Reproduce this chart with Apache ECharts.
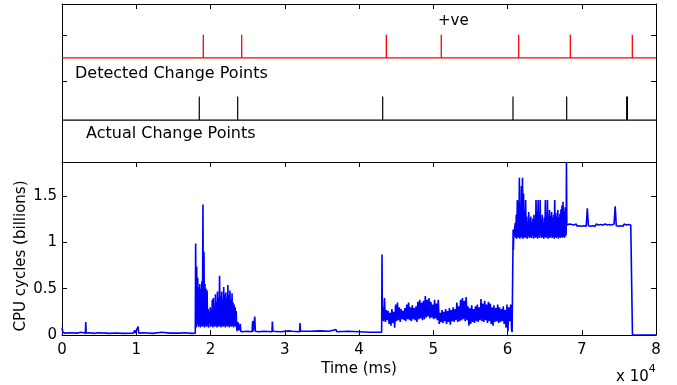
<!DOCTYPE html>
<html>
<head>
<meta charset="utf-8">
<script src="https://cdn.jsdelivr.net/npm/echarts@6/dist/echarts.min.js"></script>
<style>
html,body{margin:0;padding:0;background:#fff;}
#chart{width:677px;height:385px;}
</style>
</head>
<body>
<div id="chart"></div>
<script>
// ---------- DATA ----------
// change points (time in ms)
const detectedChangePoints = [19030, 24200, 43680, 51080, 61510, 68460, 76810];
const actualChangePoints = [18490, 23660, 43190, 60740, 67970, 76050, 76150];
const xTickValues = [0, 10000, 20000, 30000, 40000, 50000, 60000, 70000, 80000];

// CPU cycles (billions) — sparse idle stretches as [time, value]
const idleStart = [[0,0.08],[120,0.03],[400,0.02],[1100,0.025],[1200,0.018],[2000,0.02],[2600,0.03],[2700,0.018],[3150,0.018],[3200,0.14],[3260,0.02],[3700,0.025],[4400,0.018],[4800,0.025],[4900,0.018],[6000,0.02],[6200,0.03],[6300,0.018],[7300,0.022],[8200,0.018],[9600,0.02],[9800,0.05],[9850,0.02],[10100,0.04],[10250,0.09],[10320,0.02],[11000,0.025],[12200,0.018],[13400,0.03],[13500,0.018],[14500,0.02],[15800,0.02],[16500,0.025],[17500,0.018],[17950,0.02]];
// burst 1: sampled every 70 ms from 18000 ms
const burst1Values = [0.99,0.08,0.74,0.12,0.62,0.09,0.52,0.1,0.55,0.08,0.5,0.1,0.58,0.09,1.41,0.1,0.9,0.08,0.55,0.1,0.5,0.09,0.48,0.1,0.28,0.08,0.25,0.12,0.3,0.09,0.27,0.1,0.38,0.08,0.4,0.1,0.32,0.09,0.44,0.1,0.36,0.08,0.47,0.1,0.4,0.09,0.64,0.1,0.42,0.08,0.47,0.1,0.39,0.09,0.52,0.1,0.44,0.08,0.46,0.1,0.4,0.09,0.54,0.1,0.43,0.08,0.48,0.1,0.38,0.09,0.45,0.1,0.35,0.08,0.33,0.1,0.3,0.09,0.26,0.08];
const idleMiddle = [[23600,0.04],[23700,0.14],[23850,0.05],[24000,0.12],[24100,0.035],[25000,0.04],[25600,0.035],[25680,0.15],[25760,0.04],[25900,0.05],[25960,0.2],[26040,0.04],[26500,0.035],[27200,0.04],[28280,0.035],[28330,0.145],[28400,0.04],[29500,0.035],[30500,0.045],[31000,0.04],[32000,0.035],[32050,0.13],[32120,0.04],[33500,0.04],[34800,0.045],[36000,0.04],[36900,0.06],[37000,0.035],[38500,0.04],[40000,0.035],[41500,0.03],[42500,0.03],[43050,0.03],[43100,0.87],[43140,0.2]];
// phase C: sampled every 125 ms from 43180 ms
const phaseCValues = [0.30,0.15,0.40,0.14,0.27,0.16,0.26,0.12,0.24,0.10,0.28,0.13,0.25,0.08,0.33,0.15,0.35,0.16,0.30,0.14,0.28,0.17,0.26,0.16,0.29,0.15,0.33,0.17,0.35,0.16,0.30,0.15,0.32,0.17,0.29,0.16,0.31,0.14,0.36,0.17,0.38,0.18,0.35,0.16,0.37,0.17,0.42,0.19,0.38,0.20,0.40,0.18,0.36,0.19,0.33,0.17,0.38,0.18,0.34,0.16,0.38,0.12,0.24,0.14,0.27,0.13,0.25,0.15,0.28,0.12,0.26,0.14,0.29,0.11,0.27,0.15,0.30,0.14,0.28,0.16,0.35,0.14,0.31,0.15,0.38,0.16,0.40,0.17,0.37,0.15,0.41,0.16,0.31,0.10,0.29,0.12,0.32,0.14,0.28,0.13,0.31,0.15,0.33,0.14,0.30,0.16,0.39,0.15,0.34,0.14,0.37,0.16,0.33,0.13,0.36,0.15,0.34,0.12,0.30,0.10,0.32,0.14,0.29,0.15,0.33,0.13,0.30,0.14,0.28,0.15,0.31,0.12,0.27,0.08,0.33,0.04,0.30,0.15,0.33,0.06];
const transitionD = [[60620,0.03],[60700,0.02],[60740,0.02],[60760,1.14],[60790,0.92],[60830,1.05],[60860,1.03]];
// phase D: sampled every 70 ms from 60900 ms
const phaseDValues = [1.06,1.03,1.21,1.05,1.30,1.04,1.46,1.06,1.44,1.05,1.70,1.04,1.35,1.06,1.61,1.05,1.70,1.04,1.53,1.06,1.35,1.05,1.46,1.06,1.28,1.04,1.22,1.07,1.33,1.05,1.25,1.06,1.28,1.05,1.22,1.07,1.26,1.04,1.30,1.06,1.24,1.05,1.46,1.06,1.33,1.04,1.46,1.06,1.28,1.05,1.46,1.07,1.25,1.05,1.30,1.06,1.22,1.04,1.27,1.06,1.46,1.05,1.30,1.06,1.46,1.04,1.28,1.06,1.35,1.05,1.29,1.07,1.33,1.05,1.27,1.06,1.30,1.04,1.46,1.06,1.32,1.05,1.28,1.06,1.35,1.04,1.27,1.06,1.31,1.05,1.36,1.06,1.40,1.05,1.44,1.06,1.33,1.05,1.38,1.07];
const transitionE = [[67900,1.10],[67940,1.87],[67990,1.19]];
// phase E: sampled every 150 ms from 68050 ms
const phaseEValues = [1.19,1.175,1.2,1.18,1.195,1.175,1.19,1.18,1.2,1.175,1.19,1.18,1.195,1.175,1.19,1.18,1.2,1.175,1.37,1.18,1.19,1.175,1.195,1.18,1.19,1.175,1.2,1.18,1.19,1.175,1.195,1.18,1.19,1.175,1.2,1.18,1.19,1.175,1.195,1.18,1.19,1.175,1.2,1.39,1.18,1.19,1.175,1.195,1.18,1.19,1.175,1.2,1.18,1.19,1.175,1.195,1.18,1.19,1.185];
const tailEnd = [[76800,1.185],[76830,0],[80000,0]];

// ---------- BUILD ----------
function sampled(start, step, values) {
  return values.map((v, i) => [start + i * step, v]);
}
const cpuData = [].concat(
  idleStart,
  sampled(18000, 70, burst1Values),
  idleMiddle,
  sampled(43180, 125, phaseCValues),
  transitionD,
  sampled(60900, 70, phaseDValues),
  transitionE,
  sampled(68050, 150, phaseEValues),
  tailEnd
);

function spikeLine(points, base, top) {
  const out = [[0, base]];
  points.forEach(p => { out.push([p, base], [p, top], [p, base]); });
  out.push([80000, base]);
  return out;
}
const RED_BASE = 2.24, RED_TOP = 2.74, BLK_BASE = 0.90, BLK_TOP = 1.41;

const FONT = 'DejaVu Sans';
const axisLineStyle = { show: true, onZero: false, lineStyle: { color: '#000', width: 1 } };
const tickIn = { show: true, inside: true, length: 5, lineStyle: { color: '#000', width: 1 } };

const chart = echarts.init(document.getElementById('chart'), null, { renderer: 'canvas' });
chart.setOption({
  animation: false,
  backgroundColor: '#fff',
  grid: [
    { left: 62, right: 21, top: 4, height: 158 },
    { left: 62, right: 21, top: 162, height: 173 }
  ],
  xAxis: [
    { gridIndex: 0, type: 'value', min: 0, max: 80000, interval: 10000, position: 'top',
      axisLine: axisLineStyle, axisTick: tickIn, axisLabel: { show: false }, splitLine: { show: false } },
    { gridIndex: 1, type: 'value', min: 0, max: 80000, interval: 10000, position: 'bottom',
      axisLine: axisLineStyle, axisTick: tickIn, splitLine: { show: false },
      axisLabel: { show: true, margin: 8, color: '#000', fontFamily: FONT, fontSize: 15,
        formatter: v => String(v / 10000) } },
    { gridIndex: 1, type: 'value', min: 0, max: 80000, interval: 10000, position: 'top',
      axisLine: axisLineStyle, axisTick: tickIn, axisLabel: { show: false }, splitLine: { show: false } }
  ],
  yAxis: [
    { gridIndex: 0, type: 'value', min: 0, max: 3.4, position: 'left',
      axisLine: axisLineStyle, axisTick: Object.assign({}, tickIn, { customValues: [1.74, 2.73] }),
      axisLabel: { show: false }, splitLine: { show: false } },
    { gridIndex: 0, type: 'value', min: 0, max: 3.4, position: 'right',
      axisLine: axisLineStyle, axisTick: Object.assign({}, tickIn, { customValues: [1.74, 2.73] }),
      axisLabel: { show: false }, splitLine: { show: false } },
    { gridIndex: 1, type: 'value', min: 0, max: 1.87, interval: 0.5, position: 'left',
      axisLine: axisLineStyle, axisTick: tickIn, splitLine: { show: false },
      axisLabel: { show: true, margin: 5, color: '#000', fontFamily: FONT, fontSize: 15, showMaxLabel: false } },
    { gridIndex: 1, type: 'value', min: 0, max: 1.87, interval: 0.5, position: 'right',
      axisLine: axisLineStyle, axisTick: tickIn, splitLine: { show: false }, axisLabel: { show: false } }
  ],
  series: [
    { type: 'line', xAxisIndex: 0, yAxisIndex: 0, data: spikeLine(detectedChangePoints, RED_BASE, RED_TOP),
      showSymbol: false, symbol: 'none', lineStyle: { color: '#ff0000', width: 1.3 }, silent: true },
    { type: 'line', xAxisIndex: 0, yAxisIndex: 0, data: spikeLine(actualChangePoints, BLK_BASE, BLK_TOP),
      showSymbol: false, symbol: 'none', lineStyle: { color: '#000000', width: 1.2 }, silent: true },
    { type: 'line', xAxisIndex: 1, yAxisIndex: 2, data: cpuData, showSymbol: false, symbol: 'none',
      sampling: null, lineStyle: { color: '#0000ff', width: 1.6 }, silent: true, clip: true }
  ],
  graphic: [
    { type: 'text', left: 438, top: 14, style: { text: '+ve', font: '15px "DejaVu Sans"', fill: '#000' } },
    { type: 'text', left: 75, top: 66, style: { text: 'Detected Change Points', font: '16px "DejaVu Sans"', fill: '#000' } },
    { type: 'text', left: 86, top: 126, style: { text: 'Actual Change Points', font: '16px "DejaVu Sans"', fill: '#000' } },
    { type: 'text', x: 359, y: 369, style: { text: 'Time (ms)', font: '15px "DejaVu Sans"', fill: '#000', align: 'center', verticalAlign: 'middle' } },
    { type: 'text', x: 21, y: 256, rotation: Math.PI / 2, style: { text: 'CPU cycles (billions)', font: '15px "DejaVu Sans"', fill: '#000', align: 'center', verticalAlign: 'middle' } },
    { type: 'text', left: 616, top: 364, style: { text: '{a|x 10}{b|4}', fill: '#000',
      rich: { a: { fontFamily: FONT, fontSize: 15, padding: [6, 0, 0, 0] }, b: { fontFamily: FONT, fontSize: 11, verticalAlign: 'top' } } } }
  ]
});
</script>
</body>
</html>
